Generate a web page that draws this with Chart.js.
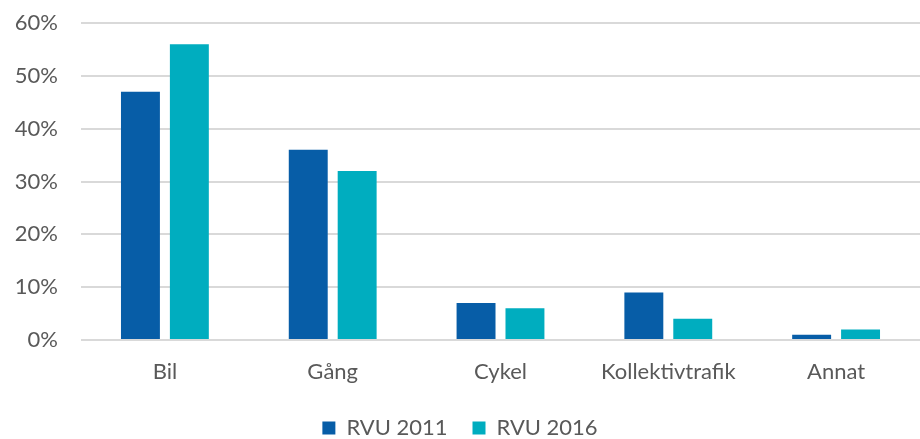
<!DOCTYPE html>
<html><head><meta charset="utf-8">
<script src="https://cdn.jsdelivr.net/npm/chart.js@4"></script>
<style>html,body{margin:0;padding:0;background:#fff;overflow:hidden;height:439px;}#wrap{width:920px;height:449px;}</style>
</head><body><div id="wrap"><canvas id="c"></canvas></div>
<script>
const categories = ["Bil", "Gång", "Cykel", "Kollektivtrafik", "Annat"];
const rvu2011 = [47, 36, 7, 9, 1];
const rvu2016 = [56, 32, 6, 4, 2];
const seriesNames = ["RVU 2011", "RVU 2016"];
const FONT = 'Lato';

new Chart(document.getElementById('c'), {
  type: 'bar',
  data: {
    labels: categories,
    datasets: [
      {label: seriesNames[0], data: rvu2011, backgroundColor: '#075DA7', categoryPercentage: 0.583, barPercentage: 0.796},
      {label: seriesNames[1], data: rvu2016, backgroundColor: '#00ADBF', categoryPercentage: 0.583, barPercentage: 0.796}
    ]
  },
  options: {
    responsive: true, maintainAspectRatio: false, animation: false,
    layout: {padding: {top: 0, right: 0, left: 0, bottom: 0}},
    plugins: {
      tooltip: {enabled: false},
      legend: {position: 'bottom', labels: {font: {family: FONT, size: 22}, color: '#595959', boxWidth: 13, boxHeight: 13, padding: 25}}
    },
    scales: {
      x: {grid: {display: false}, border: {display: false},
          afterFit: s => { s.height = 52; },
          ticks: {font: {family: FONT, size: 22}, color: '#595959', padding: 11}},
      y: {min: 0, max: 60, grid: {color: '#D9D9D9', lineWidth: 2, drawTicks: false}, border: {display: false},
          afterFit: s => { s.width = 81; s.paddingTop = 23; },
          ticks: {stepSize: 10, padding: 23, font: {family: FONT, size: 22}, color: '#595959', callback: v => v + '%'}}
    }
  }
});
</script></body></html>
